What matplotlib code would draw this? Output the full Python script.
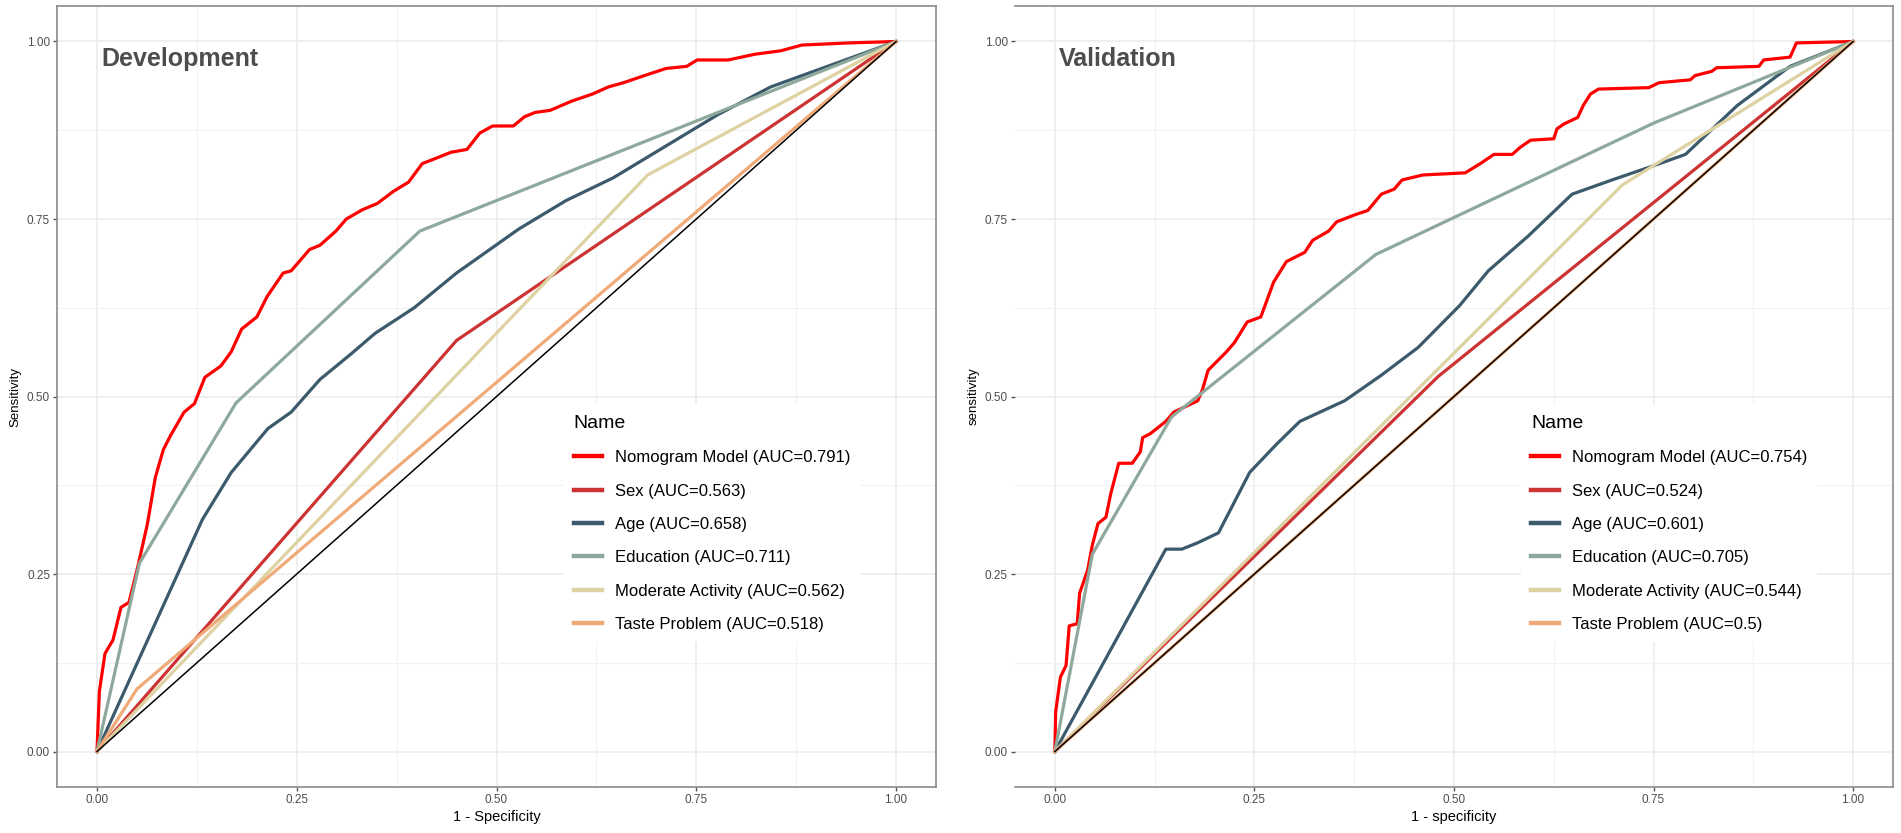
import numpy as np
import matplotlib.pyplot as plt
from matplotlib.ticker import MultipleLocator

plt.rcParams['font.family'] = ['Liberation Sans', 'DejaVu Sans']

# ---- Development cohort ----
dev_nomo_fpr = [0, 0.003, 0.010, 0.020, 0.030, 0.040, 0.050, 0.063, 0.073, 0.083, 0.092, 0.109,
                0.122, 0.135, 0.155, 0.168, 0.181, 0.200, 0.213, 0.233, 0.243, 0.266, 0.279,
                0.299, 0.312, 0.332, 0.351, 0.371, 0.390, 0.407, 0.423, 0.443, 0.463, 0.479,
                0.495, 0.521, 0.535, 0.548, 0.567, 0.594, 0.620, 0.640, 0.659, 0.685, 0.712,
                0.738, 0.751, 0.790, 0.823, 0.856, 0.882, 0.941, 1.0]
dev_nomo_tpr = [0, 0.085, 0.138, 0.157, 0.203, 0.210, 0.255, 0.320, 0.386, 0.425, 0.445, 0.478,
                0.490, 0.527, 0.543, 0.563, 0.595, 0.612, 0.641, 0.674, 0.677, 0.707, 0.713,
                0.733, 0.750, 0.763, 0.772, 0.789, 0.802, 0.828, 0.835, 0.844, 0.848, 0.871,
                0.881, 0.881, 0.894, 0.900, 0.903, 0.916, 0.926, 0.936, 0.942, 0.952, 0.962,
                0.965, 0.974, 0.974, 0.982, 0.987, 0.995, 0.998, 1.0]
dev_sex_fpr = [0, 0.45, 1.0]
dev_sex_tpr = [0, 0.579, 1.0]
dev_age_fpr = [0, 0.132, 0.168, 0.214, 0.243, 0.279, 0.318, 0.348, 0.397, 0.450, 0.528, 0.587,
               0.646, 0.699, 0.777, 0.843, 1.0]
dev_age_tpr = [0, 0.327, 0.393, 0.455, 0.478, 0.524, 0.560, 0.589, 0.625, 0.674, 0.736, 0.776,
               0.808, 0.844, 0.897, 0.936, 1.0]
dev_edu_fpr = [0, 0.053, 0.174, 0.404, 1.0]
dev_edu_tpr = [0, 0.265, 0.491, 0.733, 1.0]
dev_act_fpr = [0, 0.689, 1.0]
dev_act_tpr = [0, 0.812, 1.0]
dev_taste_fpr = [0, 0.05, 1.0]
dev_taste_tpr = [0, 0.088, 1.0]

# ---- Validation cohort ----
val_nomo_fpr = [0, 0.001, 0.007, 0.014, 0.018, 0.028, 0.031, 0.041, 0.047, 0.054, 0.064, 0.070,
                0.080, 0.097, 0.107, 0.110, 0.120, 0.139, 0.149, 0.179, 0.185, 0.192, 0.215,
                0.225, 0.241, 0.258, 0.274, 0.290, 0.313, 0.323, 0.343, 0.353, 0.376, 0.392,
                0.409, 0.425, 0.435, 0.461, 0.514, 0.533, 0.550, 0.573, 0.583, 0.596, 0.625,
                0.629, 0.638, 0.655, 0.662, 0.671, 0.681, 0.744, 0.757, 0.796, 0.802, 0.823,
                0.829, 0.882, 0.888, 0.921, 0.929, 1.0]
val_nomo_tpr = [0, 0.056, 0.105, 0.121, 0.177, 0.180, 0.223, 0.255, 0.291, 0.321, 0.330, 0.363,
                0.406, 0.406, 0.422, 0.442, 0.448, 0.465, 0.478, 0.494, 0.510, 0.537, 0.563,
                0.576, 0.605, 0.612, 0.661, 0.690, 0.703, 0.720, 0.733, 0.746, 0.756, 0.762,
                0.785, 0.792, 0.805, 0.812, 0.815, 0.828, 0.841, 0.841, 0.851, 0.861, 0.863,
                0.877, 0.884, 0.893, 0.910, 0.926, 0.933, 0.935, 0.942, 0.946, 0.952, 0.958,
                0.963, 0.965, 0.974, 0.978, 0.998, 1.0]
val_sex_fpr = [0, 0.48, 1.0]
val_sex_tpr = [0, 0.528, 1.0]
val_age_fpr = [0, 0.139, 0.159, 0.179, 0.205, 0.244, 0.277, 0.307, 0.363, 0.409, 0.455, 0.507,
               0.543, 0.593, 0.648, 0.698, 0.750, 0.790, 0.855, 0.921, 1.0]
val_age_tpr = [0, 0.285, 0.285, 0.294, 0.308, 0.393, 0.432, 0.465, 0.494, 0.530, 0.569, 0.628,
               0.677, 0.726, 0.785, 0.805, 0.825, 0.841, 0.910, 0.965, 1.0]
val_edu_fpr = [0, 0.047, 0.146, 0.402, 0.750, 1.0]
val_edu_tpr = [0, 0.278, 0.471, 0.700, 0.885, 1.0]
val_act_fpr = [0, 0.711, 1.0]
val_act_tpr = [0, 0.798, 1.0]
val_taste_fpr = [0, 1.0]
val_taste_tpr = [0, 1.0]

names = ["Nomogram Model", "Sex", "Age", "Education", "Moderate Activity", "Taste Problem"]
dev_auc = ["0.791", "0.563", "0.658", "0.711", "0.562", "0.518"]
val_auc = ["0.754", "0.524", "0.601", "0.705", "0.544", "0.5"]
colors = ["#ff0000", "#cd3333", "#3b5a6b", "#8ea99c", "#ded2a3", "#f0aa78"]

dev_curves = [(dev_nomo_fpr, dev_nomo_tpr), (dev_sex_fpr, dev_sex_tpr), (dev_age_fpr, dev_age_tpr),
              (dev_edu_fpr, dev_edu_tpr), (dev_act_fpr, dev_act_tpr), (dev_taste_fpr, dev_taste_tpr)]
val_curves = [(val_nomo_fpr, val_nomo_tpr), (val_sex_fpr, val_sex_tpr), (val_age_fpr, val_age_tpr),
              (val_edu_fpr, val_edu_tpr), (val_act_fpr, val_act_tpr), (val_taste_fpr, val_taste_tpr)]


def draw_panel(ax, curves, aucs, title, xlabel, ylabel, show_left=True):
    for (fpr, tpr), name, auc, col in zip(curves, names, aucs, colors):
        ax.plot(fpr, tpr, color=col, lw=2.3, label=f"{name} (AUC={auc})", zorder=3)
    # reference diagonal
    ax.plot([0, 1], [0, 1], color="black", lw=1.1, zorder=4)

    ax.set_xlim(-0.05, 1.05)
    ax.set_ylim(-0.05, 1.05)
    ax.xaxis.set_major_locator(MultipleLocator(0.25))
    ax.yaxis.set_major_locator(MultipleLocator(0.25))
    ax.xaxis.set_minor_locator(MultipleLocator(0.125))
    ax.yaxis.set_minor_locator(MultipleLocator(0.125))
    ax.xaxis.set_major_formatter(plt.FuncFormatter(lambda v, p: f"{v:.2f}"))
    ax.yaxis.set_major_formatter(plt.FuncFormatter(lambda v, p: f"{v:.2f}"))
    ax.grid(which="major", color="#ebebeb", lw=1.1, zorder=0)
    ax.grid(which="minor", color="#f2f2f2", lw=0.8, zorder=0)
    ax.set_axisbelow(True)
    ax.tick_params(which="major", length=3, width=1, color="#555555",
                   labelsize=8.5, labelcolor="#4d4d4d", pad=2)
    ax.tick_params(which="minor", length=0)
    for sp in ax.spines.values():
        sp.set_color("#8a8a8a")
        sp.set_linewidth(1.2)
    if not show_left:
        ax.spines["left"].set_visible(False)

    ax.set_xlabel(xlabel, fontsize=10.5, labelpad=3)
    ax.set_ylabel(ylabel, fontsize=9.5, labelpad=4)
    ax.text(0.005, 0.975, title, fontsize=18, fontweight="bold", color="#4d4d4d",
            ha="left", va="center", transform=ax.transData)

    leg = ax.legend(loc="upper left", bbox_to_anchor=(0.567, 0.50), title="Name",
                    fontsize=12, title_fontsize=14, frameon=True, facecolor="white",
                    edgecolor="none", framealpha=1, fancybox=False,
                    handlelength=1.7, handletextpad=0.75, labelspacing=1.1,
                    borderpad=0.6, alignment="left")
    for line in leg.get_lines():
        line.set_linewidth(3.2)
    leg.set_zorder(5)


fig = plt.figure(figsize=(19.01, 8.33), dpi=100)
ax1 = fig.add_axes([0.0300, 0.0552, 0.4624, 0.9376])
ax2 = fig.add_axes([0.5339, 0.0552, 0.4619, 0.9376])

draw_panel(ax1, dev_curves, dev_auc, "Development", "1 - Specificity", "Sensitivity")
draw_panel(ax2, val_curves, val_auc, "Validation", "1 - specificity", "sensitivity", show_left=False)

fig.savefig("out.png", dpi=100)
